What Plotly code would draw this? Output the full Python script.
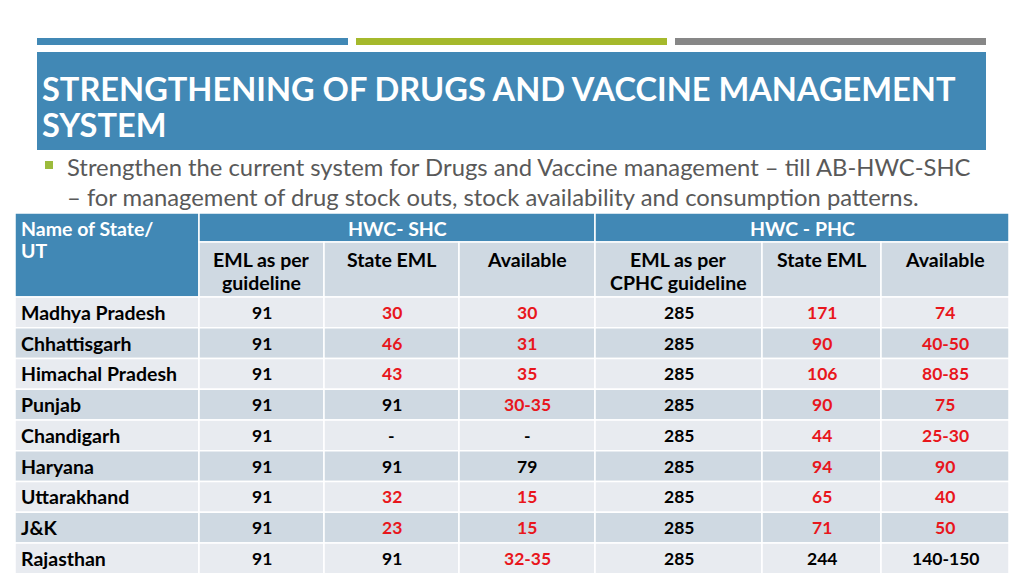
import plotly.graph_objects as go

# ---------------- data ----------------
title_lines = ["STRENGTHENING OF DRUGS AND VACCINE MANAGEMENT", "SYSTEM"]
bullet_line1 = "Strengthen the current system for Drugs and Vaccine management – till AB-HWC-SHC"
bullet_line2 = "– for management of drug stock outs, stock availability and consumption patterns."

group_headers = ["HWC- SHC", "HWC - PHC"]
first_header = ["Name of State/", "UT"]
sub_headers = [["EML as per", "guideline"], ["State EML"], ["Available"],
               ["EML as per", "CPHC guideline"], ["State EML"], ["Available"]]

states = ["Madhya Pradesh", "Chhattisgarh", "Himachal Pradesh", "Punjab", "Chandigarh",
          "Haryana", "Uttarakhand", "J&K", "Rajasthan"]
shc_eml = ["91", "91", "91", "91", "91", "91", "91", "91", "91"]
shc_state = ["30", "46", "43", "91", "-", "91", "32", "23", "91"]
shc_avail = ["30", "31", "35", "30-35", "-", "79", "15", "15", "32-35"]
phc_eml = ["285", "285", "285", "285", "285", "285", "285", "285", "285"]
phc_state = ["171", "90", "106", "90", "44", "94", "65", "71", "244"]
phc_avail = ["74", "40-50", "80-85", "75", "25-30", "90", "40", "50", "140-150"]

# flagged (shortfall) values shown in red
shc_state_flag = [1, 1, 1, 0, 0, 0, 1, 1, 0]
shc_avail_flag = [1, 1, 1, 1, 0, 0, 1, 1, 1]
phc_state_flag = [1, 1, 1, 1, 1, 1, 1, 1, 0]
phc_avail_flag = [1, 1, 1, 1, 1, 1, 1, 1, 0]

# ---------------- layout geometry ----------------
W, H = 1024, 576
BLUE = "#4188b5"
GREEN = "#a5b92c"
GREY = "#878787"
DARK = "#cfd9e2"
LIGHT = "#e8ebf0"
RED = "#e8161c"
FONT = "Lato"
HDR = 19.5
TXT = 19.5
NUM = 17.5

col_edges = [15, 199, 324, 459, 595, 762, 881, 1009]
h_top, h_mid, h_bot = 213, 242, 297
row_h = 30.75

shapes = []
ann = []

def rect(x0, y0, x1, y1, fill, line=None, lw=0):
    shapes.append(dict(type="rect", xref="x", yref="y", x0=x0, y0=y0, x1=x1, y1=y1,
                       fillcolor=fill, line=dict(color=line or fill, width=lw), layer="below"))

def text(x, y, s, size, color, xanchor="center", yanchor="middle", bold=True):
    ann.append(dict(x=x, y=y, xref="x", yref="y", text=("<b>%s</b>" % s) if bold else s,
                    showarrow=False, xanchor=xanchor, yanchor=yanchor, borderpad=0,
                    font=dict(family=FONT, size=size, color=color)))

# top colour bars
rect(37, 38, 348, 45, BLUE)
rect(356, 38, 667, 45, GREEN)
rect(675, 38, 986, 45, GREY)

# title box
rect(37, 52, 986, 150, BLUE)
text(41, 88, title_lines[0], 32.6, "white", xanchor="left")
text(41, 124, title_lines[1], 32.6, "white", xanchor="left")

# bullet
rect(45, 161, 53, 169, "#9cbb3c")
text(66, 167, bullet_line1, 23.8, "#595959", xanchor="left", bold=False)
text(66, 197, bullet_line2, 23.8, "#595959", xanchor="left", bold=False)

# table header
rect(col_edges[0], h_top, col_edges[1], h_bot, BLUE, "white", 1.5)
rect(col_edges[1], h_top, col_edges[4], h_mid, BLUE, "white", 1.5)
rect(col_edges[4], h_top, col_edges[7], h_mid, BLUE, "white", 1.5)
text(20, 228, first_header[0], HDR, "white", xanchor="left")
text(20, 250, first_header[1], HDR, "white", xanchor="left")
text((col_edges[1] + col_edges[4]) / 2, 228, group_headers[0], HDR, "white")
text((col_edges[4] + col_edges[7]) / 2, 228, group_headers[1], HDR, "white")
for i, sh in enumerate(sub_headers):
    x0, x1 = col_edges[i + 1], col_edges[i + 2]
    rect(x0, h_mid, x1, h_bot, DARK, "white", 1.5)
    for k, line in enumerate(sh):
        text((x0 + x1) / 2, 259 + 23 * k, line, HDR, "black")

# data rows
cols = [shc_eml, shc_state, shc_avail, phc_eml, phc_state, phc_avail]
flags = [[0] * len(states), shc_state_flag, shc_avail_flag, [0] * len(states), phc_state_flag, phc_avail_flag]
for r, st in enumerate(states):
    y0 = h_bot + r * row_h
    y1 = y0 + row_h
    fill = DARK if r % 2 == 1 else LIGHT
    ym = (y0 + y1) / 2
    rect(col_edges[0], y0, col_edges[1], y1, fill, "white", 1.5)
    text(20, ym, st, TXT, "black", xanchor="left")
    for c in range(6):
        x0, x1 = col_edges[c + 1], col_edges[c + 2]
        rect(x0, y0, x1, y1, fill, "white", 1.5)
        text((x0 + x1) / 2, ym, cols[c][r], NUM, RED if flags[c][r] else "black")

fig = go.Figure()
fig.add_trace(go.Scatter(x=[0, W], y=[0, H], mode="markers", marker=dict(opacity=0),
                         hoverinfo="skip", showlegend=False))
fig.update_layout(
    width=W, height=H, margin=dict(l=0, r=0, t=0, b=0),
    paper_bgcolor="white", plot_bgcolor="white",
    xaxis=dict(range=[0, W], visible=False, fixedrange=True),
    yaxis=dict(range=[H, 0], visible=False, fixedrange=True),
    shapes=shapes, annotations=ann, showlegend=False,
)
fig.write_html("out.html", config={"displayModeBar": False},
               post_script="document.body.style.margin='0';document.body.style.overflow='hidden';")
